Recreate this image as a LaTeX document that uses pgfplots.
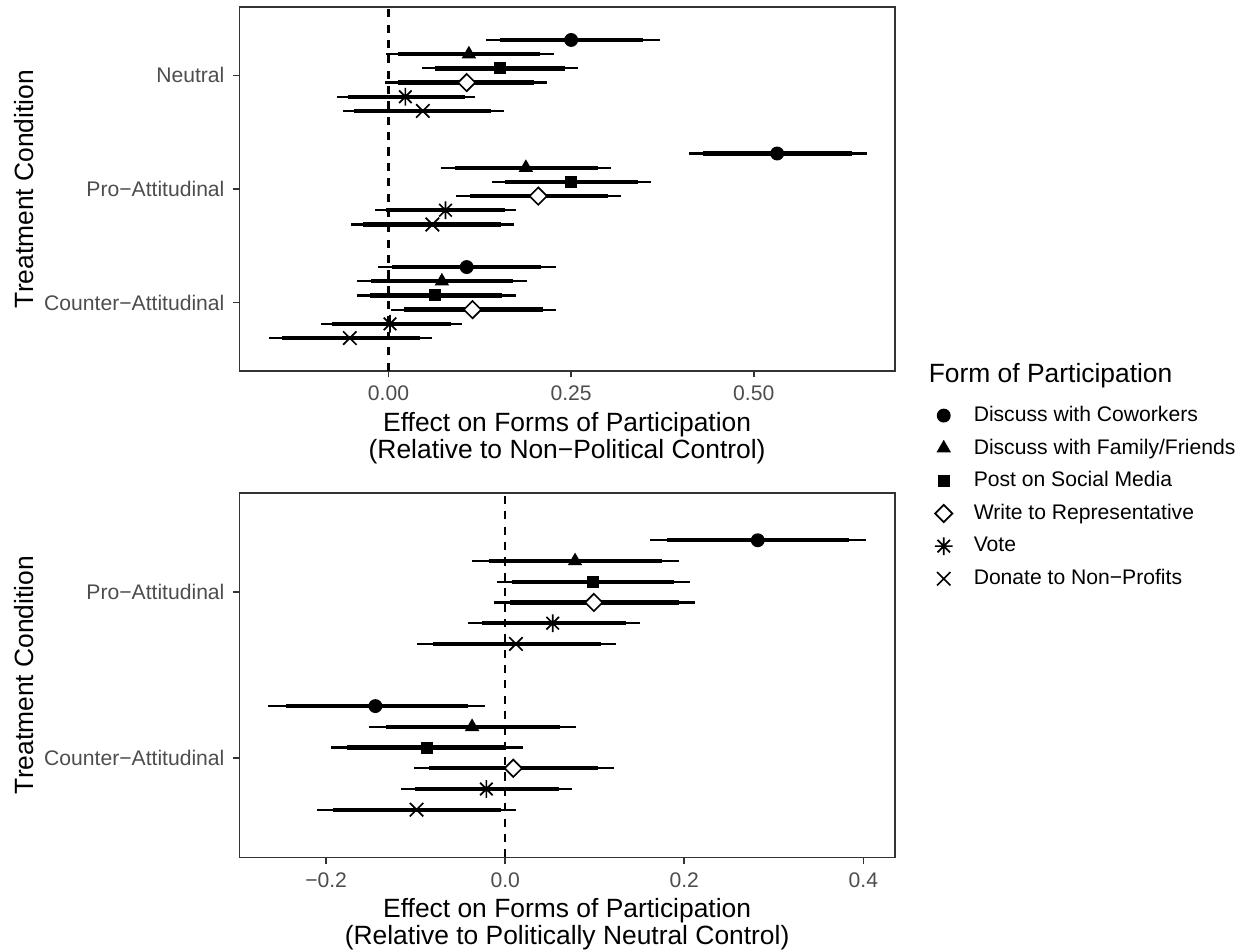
\documentclass[border=0pt]{standalone}
\usepackage{fontspec}
\setmainfont{Liberation Sans}
\usepackage{pgfplots}
\pgfplotsset{compat=1.18}
\usepackage{pgfplotstable}
\definecolor{grey20}{RGB}{51,51,51}
\definecolor{grey30}{RGB}{77,77,77}

\pgfdeclareplotmark{rcirc}{\pgfpathcircle{\pgfpointorigin}{\pgfplotmarksize}\pgfusepathqfill}
\pgfdeclareplotmark{rtri}{%
  \pgfpathmoveto{\pgfqpoint{0pt}{\pgfplotmarksize}}%
  \pgfpathlineto{\pgfqpoint{0.866\pgfplotmarksize}{-0.5\pgfplotmarksize}}%
  \pgfpathlineto{\pgfqpoint{-0.866\pgfplotmarksize}{-0.5\pgfplotmarksize}}%
  \pgfpathclose\pgfusepathqfill}
\pgfdeclareplotmark{rsq}{%
  \pgfpathrectangle{\pgfqpoint{-\pgfplotmarksize}{-\pgfplotmarksize}}{\pgfqpoint{2\pgfplotmarksize}{2\pgfplotmarksize}}%
  \pgfusepathqfill}
\pgfdeclareplotmark{rdia}{%
  \pgfpathmoveto{\pgfqpoint{0pt}{\pgfplotmarksize}}%
  \pgfpathlineto{\pgfqpoint{\pgfplotmarksize}{0pt}}%
  \pgfpathlineto{\pgfqpoint{0pt}{-\pgfplotmarksize}}%
  \pgfpathlineto{\pgfqpoint{-\pgfplotmarksize}{0pt}}%
  \pgfpathclose\pgfusepathqfillstroke}
\pgfdeclareplotmark{rast}{%
  \pgfpathmoveto{\pgfqpoint{0pt}{\pgfplotmarksize}}\pgfpathlineto{\pgfqpoint{0pt}{-\pgfplotmarksize}}%
  \pgfpathmoveto{\pgfqpoint{\pgfplotmarksize}{0pt}}\pgfpathlineto{\pgfqpoint{-\pgfplotmarksize}{0pt}}%
  \pgfpathmoveto{\pgfqpoint{0.7071\pgfplotmarksize}{0.7071\pgfplotmarksize}}\pgfpathlineto{\pgfqpoint{-0.7071\pgfplotmarksize}{-0.7071\pgfplotmarksize}}%
  \pgfpathmoveto{\pgfqpoint{-0.7071\pgfplotmarksize}{0.7071\pgfplotmarksize}}\pgfpathlineto{\pgfqpoint{0.7071\pgfplotmarksize}{-0.7071\pgfplotmarksize}}%
  \pgfusepathqstroke}
\pgfdeclareplotmark{rx}{%
  \pgfpathmoveto{\pgfqpoint{-\pgfplotmarksize}{-\pgfplotmarksize}}\pgfpathlineto{\pgfqpoint{\pgfplotmarksize}{\pgfplotmarksize}}%
  \pgfpathmoveto{\pgfqpoint{-\pgfplotmarksize}{\pgfplotmarksize}}\pgfpathlineto{\pgfqpoint{\pgfplotmarksize}{-\pgfplotmarksize}}%
  \pgfusepathqstroke}

% y: position (category + dodge), est, 95% and 90% interval ends, class
\pgfplotstableread{
y      est    lo95   hi95   lo90   hi90   cls
3.3125 0.250  0.133  0.371  0.152  0.348  a
3.1875 0.110 -0.004  0.226  0.013  0.207  b
3.0625 0.152  0.046  0.260  0.064  0.242  c
2.9375 0.107 -0.005  0.217  0.013  0.199  d
2.8125 0.023 -0.071  0.119 -0.055  0.104  e
2.6875 0.047 -0.063  0.158 -0.047  0.140  f
2.3125 0.532  0.412  0.655  0.431  0.635  a
2.1875 0.188  0.072  0.305  0.091  0.287  b
2.0625 0.250  0.142  0.359  0.159  0.341  c
1.9375 0.205  0.093  0.318  0.111  0.300  d
1.8125 0.078 -0.019  0.174 -0.004  0.159  e
1.6875 0.060 -0.052  0.172 -0.035  0.154  f
1.3125 0.107 -0.015  0.229  0.005  0.209  a
1.1875 0.073 -0.043  0.190 -0.024  0.171  b
1.0625 0.064 -0.043  0.174 -0.025  0.156  c
0.9375 0.115  0.003  0.229  0.021  0.211  d
0.8125 0.002 -0.093  0.100 -0.078  0.085  e
0.6875 -0.053 -0.164 0.060 -0.146  0.043  f
}\toptab

\pgfplotstableread{
y      est    lo95   hi95   lo90   hi90   cls
2.3125 0.282  0.162  0.403  0.181  0.384  a
2.1875 0.078 -0.037  0.194 -0.018  0.175  b
2.0625 0.098 -0.009  0.206  0.008  0.189  c
1.9375 0.099 -0.012  0.212  0.005  0.194  d
1.8125 0.053 -0.041  0.150 -0.026  0.135  e
1.6875 0.012 -0.098  0.124 -0.081  0.107  f
1.3125 -0.145 -0.265 -0.023 -0.245 -0.042 a
1.1875 -0.037 -0.152 0.079 -0.133  0.061  b
1.0625 -0.087 -0.194 0.020 -0.177  0.001  c
0.9375 0.009 -0.102  0.122 -0.085  0.104  d
0.8125 -0.021 -0.116 0.075 -0.101  0.060  e
0.6875 -0.099 -0.210 0.012 -0.192 -0.005  f
}\bottab

\pgfplotsset{
  panel/.style={
    scale only axis, width=273pt, anchor=south west,
    axis line style={grey20, line width=0.75pt},
    tick align=outside, major tick length=2.75pt,
    every tick/.style={grey20, line width=0.75pt},
    xtick pos=lower, ytick pos=left,
    tick label style={font=\fontsize{8.8}{10}\selectfont, text=grey30},
    xlabel style={font=\fontsize{11}{9.9}\selectfont, align=center,
      at={(rel axis cs:0.5,0)}, anchor=north, inner sep=0pt, yshift=-17pt},
    ylabel style={font=\fontsize{11}{12}\selectfont,
      at={(rel axis cs:-0.329,0.5)}, anchor=center},
    ylabel={Treatment Condition},
  },
  thinbar/.style={forget plot, draw=none, mark=none,
    error bars/.cd, x dir=both, x explicit, error mark=none,
    error bar style={draw=black, solid, line width=0.9pt}},
  thickbar/.style={forget plot, draw=none, mark=none,
    error bars/.cd, x dir=both, x explicit, error mark=none,
    error bar style={draw=black, solid, line width=1.8pt}},
  zeroline/.style={forget plot, black, line width=0.9pt, dash pattern=on 3.4pt off 3pt},
  pts/.style={forget plot, scatter, only marks, scatter src=explicit symbolic,
    scatter/classes={
      a={mark=rcirc, mark size=2.9pt, black},
      b={mark=rtri, mark size=3.5pt, black},
      c={mark=rsq, mark size=2.5pt, black},
      d={mark=rdia, mark size=3.6pt, draw=black, fill=white, line width=0.7pt},
      e={mark=rast, mark size=3.7pt, draw=black, line width=0.7pt},
      f={mark=rx, mark size=2.8pt, draw=black, line width=0.7pt}}},
}

\begin{document}
\begin{tikzpicture}
\useasboundingbox (0,0) rectangle (518.33pt,396.25pt);

\begin{axis}[panel, at={(99.8pt,241.8pt)}, height=151.4pt,
  xmin=-0.204, xmax=0.693, ymin=0.4, ymax=3.6,
  xtick={0,0.25,0.5}, xticklabels={0.00,0.25,0.50},
  ytick={1,2,3}, yticklabels={Counter−Attitudinal,Pro−Attitudinal,Neutral},
  xlabel={Effect on Forms of Participation\\(Relative to Non−Political Control)},
  legend image code/.code={\path[draw=none, fill=none] (-4pt,-4pt) rectangle (4pt,4pt); \draw[#1] plot coordinates {(0pt,0pt)};},
  legend style={at={(rel axis cs:1.0594,-0.0958)}, anchor=north west, draw=none, fill=none,
    font=\fontsize{8.8}{10}\selectfont, inner sep=0pt, row sep=5.6pt,
    cells={anchor=west}, nodes={inner sep=0pt},
    /tikz/every odd column/.style={column sep=8.5pt}},
  legend cell align=left,
]
\addplot[zeroline] coordinates {(0,0.4) (0,3.6)};
\addplot[thinbar] table[x=est, y=y, x error plus expr=\thisrow{hi95}-\thisrow{est}, x error minus expr=\thisrow{est}-\thisrow{lo95}] {\toptab};
\addplot[thickbar] table[x=est, y=y, x error plus expr=\thisrow{hi90}-\thisrow{est}, x error minus expr=\thisrow{est}-\thisrow{lo90}] {\toptab};
\addplot[pts] table[x=est, y=y, meta=cls] {\toptab};
\addlegendimage{only marks, mark=rcirc, mark size=2.9pt, black}
\addlegendentry{Discuss with Coworkers}
\addlegendimage{only marks, mark=rtri, mark size=3.5pt, black}
\addlegendentry{Discuss with Family/Friends}
\addlegendimage{only marks, mark=rsq, mark size=2.5pt, black}
\addlegendentry{Post on Social Media}
\addlegendimage{only marks, mark=rdia, mark size=3.6pt, mark options={draw=black, fill=white, line width=0.7pt}}
\addlegendentry{Write to Representative}
\addlegendimage{only marks, mark=rast, mark size=3.7pt, mark options={draw=black, line width=0.7pt}}
\addlegendentry{Vote}
\addlegendimage{only marks, mark=rx, mark size=2.8pt, mark options={draw=black, line width=0.7pt}}
\addlegendentry{Donate to Non−Profits}
\end{axis}

\begin{axis}[panel, at={(99.8pt,39.0pt)}, height=152pt,
  xmin=-0.2967, xmax=0.435, ymin=0.4, ymax=2.6,
  xtick={-0.2,0,0.2,0.4}, xticklabels={−0.2,0.0,0.2,0.4},
  ytick={1,2}, yticklabels={Counter−Attitudinal,Pro−Attitudinal},
  xlabel={Effect on Forms of Participation\\(Relative to Politically Neutral Control)},
]
\addplot[zeroline] coordinates {(0,0.4) (0,2.6)};
\addplot[thinbar] table[x=est, y=y, x error plus expr=\thisrow{hi95}-\thisrow{est}, x error minus expr=\thisrow{est}-\thisrow{lo95}] {\bottab};
\addplot[thickbar] table[x=est, y=y, x error plus expr=\thisrow{hi90}-\thisrow{est}, x error minus expr=\thisrow{est}-\thisrow{lo90}] {\bottab};
\addplot[pts] table[x=est, y=y, meta=cls] {\bottab};
\end{axis}

\node[anchor=base west, font=\fontsize{11}{12}\selectfont, inner sep=0pt] at (386.8pt,236.8pt) {Form of Participation};
\end{tikzpicture}
\end{document}
